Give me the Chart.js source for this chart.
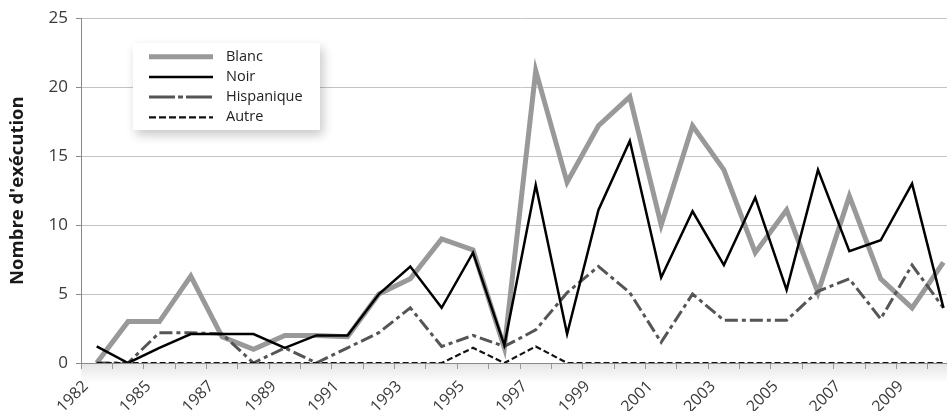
<!DOCTYPE html>
<html><head><meta charset="utf-8">
<script src="https://cdn.jsdelivr.net/npm/chart.js@4.4.1/dist/chart.umd.min.js"></script>
<style>
html,body{margin:0;padding:0;background:#fff;overflow:hidden;width:947px;height:411px}
#wrap{width:965px;height:411px;position:relative}
</style></head><body>
<div id="wrap"><canvas id="c" width="965" height="411"></canvas></div>
<script>
const years = ['1982','1984','1985','1986','1987','1988','1989','1990','1991','1992','1993','1994','1995','1996','1997','1998','1999','2000','2001','2002','2003','2004','2005','2006','2007','2008','2009','2010'];
const blanc = [0, 3, 3, 6.3, 1.9, 1.0, 2.0, 2.0, 1.9, 5.0, 6.1, 9.0, 8.2, 1.1, 21.2, 13.1, 17.2, 19.3, 10.0, 17.2, 14.0, 8.0, 11.1, 5.1, 12.1, 6.1, 4.0, 7.3];
const noir = [1.2, 0, 1.1, 2.1, 2.1, 2.1, 1.1, 2.0, 2.0, 5.0, 7.0, 4.0, 8.0, 1.3, 12.9, 2.1, 11.1, 16.1, 6.2, 11.0, 7.1, 12.0, 5.3, 14.0, 8.1, 8.9, 13.0, 4.0];
const hispanique = [0, 0, 2.2, 2.2, 2.1, 0, 1.1, 0, 1.1, 2.2, 4.0, 1.2, 2.0, 1.2, 2.4, 5.1, 7.0, 5.1, 1.5, 5.0, 3.1, 3.1, 3.1, 5.2, 6.1, 3.2, 7.1, 4.0];
const autre = [0, 0, 0, 0, 0, 0, 0, 0, 0, 0, 0, 0, 1.1, 0, 1.2, 0, 0, 0, 0, 0, 0, 0, 0, 0, 0, 0, 0, 0];
const seriesNames = ['Blanc', 'Noir', 'Hispanique', 'Autre'];
const yTicks = [0, 5, 10, 15, 20, 25];
const FONT = "'Open Sans', 'DejaVu Sans', sans-serif";

const legendDash = [[], [], [26, 3, 5, 3], [7, 3]];

const axisShadow = {
  id: 'axisShadow',
  beforeDraw(chart) {
    const {ctx, chartArea} = chart;
    const g = ctx.createLinearGradient(0, chartArea.bottom, 0, chartArea.bottom + 20);
    g.addColorStop(0, 'rgba(0,0,0,0.10)');
    g.addColorStop(1, 'rgba(0,0,0,0)');
    ctx.save();
    ctx.fillStyle = g;
    ctx.fillRect(chartArea.left, chartArea.bottom, chartArea.right - chartArea.left, 20);
    ctx.restore();
  }
};

const boxLegend = {
  id: 'boxLegend',
  afterDraw(chart) {
    const ctx = chart.ctx;
    const x = 133, y = 43, w = 187, h = 87;
    ctx.save();
    ctx.shadowColor = 'rgba(0,0,0,0.22)';
    ctx.shadowBlur = 10;
    ctx.shadowOffsetX = 3;
    ctx.shadowOffsetY = 5;
    ctx.fillStyle = '#fff';
    ctx.fillRect(x, y, w, h);
    ctx.restore();
    ctx.save();
    chart.data.datasets.forEach((ds, i) => {
      const ly = 56.7 + i * 20.2;
      ctx.beginPath();
      ctx.setLineDash(legendDash[i]);
      ctx.strokeStyle = ds.borderColor;
      ctx.lineWidth = ds.borderWidth;
      ctx.lineCap = 'butt';
      ctx.moveTo(149, ly);
      ctx.lineTo(213, ly);
      ctx.stroke();
      ctx.setLineDash([]);
      ctx.fillStyle = '#222';
      ctx.font = "14.5px " + FONT;
      ctx.textBaseline = 'middle';
      ctx.textAlign = 'left';
      ctx.fillText(ds.label, 226, ly);
    });
    ctx.restore();
  }
};

new Chart(document.getElementById('c'), {
  type: 'line',
  data: {
    labels: years,
    datasets: [
      {label: seriesNames[0], data: blanc, borderColor: '#999999', borderWidth: 5, order: 4},
      {label: seriesNames[1], data: noir, borderColor: '#000000', borderWidth: 2.5, order: 2},
      {label: seriesNames[2], data: hispanique, borderColor: '#555555', borderWidth: 3, borderDash: [13, 4, 4, 4], order: 3},
      {label: seriesNames[3], data: autre, borderColor: '#111111', borderWidth: 2.2, borderDash: [6, 3], order: 1}
    ]
  },
  options: {
    responsive: false,
    animation: false,
    events: [],
    layout: {padding: {top: 18, right: 0, bottom: 0, left: 0}},
    elements: {point: {radius: 0}, line: {tension: 0, borderCapStyle: 'butt', borderJoinStyle: 'miter'}},
    plugins: {legend: {display: false}, tooltip: {enabled: false}},
    scales: {
      x: {
        type: 'category',
        offset: true,
        afterFit: s => { s.height = 48; },
        border: {display: true, color: '#8a8a8a', width: 1},
        grid: {display: true, offset: true, drawOnChartArea: false, drawTicks: true, tickLength: 6, tickColor: '#9a9a9a'},
        ticks: {
          autoSkip: false, minRotation: 45, maxRotation: 45, padding: 8, labelOffset: -11,
          color: '#3a3a3a', font: {family: FONT, size: 16},
          callback: (v, i) => (i % 2 === 0 ? years[i] : '')
        }
      },
      y: {
        min: 0, max: 25,
        afterFit: s => { s.width = 81; },
        afterBuildTicks: s => { s.ticks = yTicks.map(v => ({value: v})); },
        border: {display: true, color: '#8a8a8a', width: 1},
        grid: {color: '#c4c4c4', lineWidth: 1, drawTicks: true, tickLength: 5, tickColor: '#8a8a8a'},
        ticks: {padding: 8, color: '#3a3a3a', font: {family: FONT, size: 17}},
        title: {display: true, text: "Nombre d'exécution", color: '#1a1a1a', font: {family: FONT, size: 18.5, weight: 'bold'}, padding: {top: 7, bottom: 0}}
      }
    }
  },
  plugins: [axisShadow, boxLegend]
});
</script>
</body></html>
